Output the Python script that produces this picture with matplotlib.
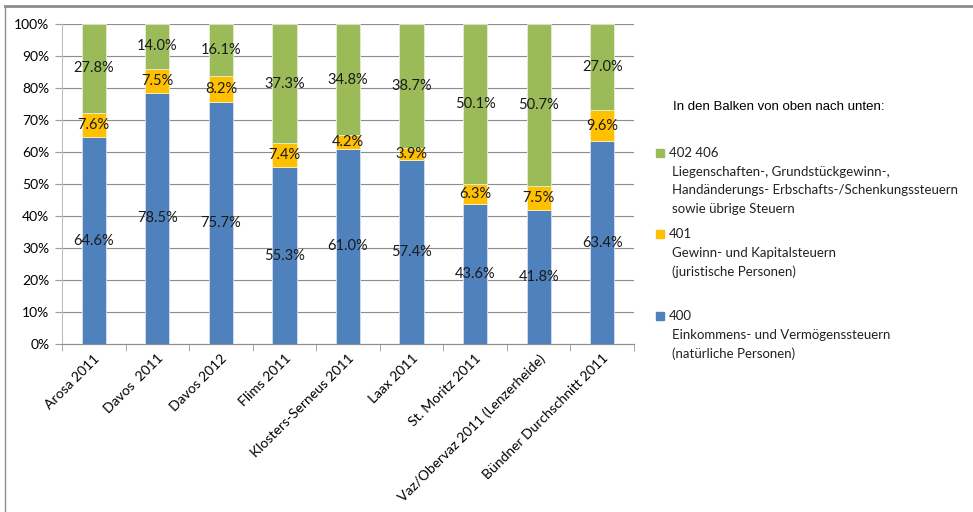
import numpy as np
import matplotlib
matplotlib.use("Agg")
import matplotlib.pyplot as plt
from matplotlib.lines import Line2D
from matplotlib.patches import Rectangle

orte = ["Arosa 2011", "Davos  2011", "Davos 2012", "Flims 2011",
        "Klosters-Serneus 2011", "Laax 2011", "St. Moritz 2011",
        "Vaz/Obervaz 2011 (Lenzerheide)", "Bündner Durchschnitt 2011"]
# 400 Einkommens- und Vermoegenssteuern
nat = [64.6, 78.5, 75.7, 55.3, 61.0, 57.4, 43.6, 41.8, 63.4]
# 401 Gewinn- und Kapitalsteuern
jur = [7.6, 7.5, 8.2, 7.4, 4.2, 3.9, 6.3, 7.5, 9.6]
# 402-406 Liegenschaften etc.
lieg = [27.8, 14.0, 16.1, 37.3, 34.8, 38.7, 50.1, 50.7, 27.0]

blau = "#4F81BD"
gelb = "#FFC000"
gruen = "#9BBB59"

plt.rcParams['font.family'] = ['Lato', 'DejaVu Sans']

fig = plt.figure(figsize=(9.73, 5.12), dpi=100)
ax = fig.add_axes([62/973, 1-344/512, (634-62)/973, 320/512])

x = np.arange(len(orte))
nat = np.array(nat)
jur = np.array(jur)
lieg = np.array(lieg)
b = 0.38
ax.bar(x, nat, b, color=blau, edgecolor="#d6e0ee", linewidth=0.6, zorder=3)
ax.bar(x, jur, b, bottom=nat, color=gelb, edgecolor="#fff0c0", linewidth=0.6, zorder=3)
ax.bar(x, lieg, b, bottom=nat+jur, color=gruen, edgecolor="#e4eed6", linewidth=0.6, zorder=3)

for i in range(len(orte)):
    for bot, v in [(0, nat[i]), (nat[i], jur[i]), (nat[i]+jur[i], lieg[i])]:
        ax.text(x[i], bot + v/2, f"{v:.1f}%", ha="center", va="center",
                fontsize=10.5, color="#1a1a1a", zorder=4)

ax.set_xlim(-0.5, len(orte)-0.5)
ax.set_ylim(0, 100)
ax.set_yticks(np.arange(0, 101, 10))
ax.set_yticklabels([f"{v}%" for v in range(0, 101, 10)], fontsize=10)
ax.set_xticks(x)
ax.set_xticklabels(orte, rotation=45, ha="right", va="top",
                   rotation_mode="anchor", fontsize=10)
ax.set_xticks(np.arange(len(orte)+1) - 0.5, minor=True)
ax.tick_params(axis="x", which="major", length=0, pad=6)
ax.tick_params(axis="x", which="minor", length=5, color="#999999")
ax.tick_params(axis="y", length=5, color="#999999", pad=4)
ax.grid(axis="y", color="#8c8c8c", linewidth=0.8, zorder=0)
for s in ["top", "right"]:
    ax.spines[s].set_visible(False)
ax.spines["left"].set_color("#bfbfbf")
ax.spines["bottom"].set_color("#8c8c8c")

# Legende rechts
fig.text(673/973, 1-107/512, "In den Balken von oben nach unten:",
         fontsize=9.5, family=['Liberation Sans'], va="center")
eintraege = [
    (gruen, 153, ["402 406", "Liegenschaften-, Grundstückgewinn-,",
                  "Handänderungs- Erbschafts-/Schenkungssteuern",
                  "sowie übrige Steuern"]),
    (gelb, 234, ["401", "Gewinn- und Kapitalsteuern", "(juristische Personen)"]),
    (blau, 316, ["400", "Einkommens- und Vermögenssteuern", "(natürliche Personen)"]),
]
for farbe, y0, zeilen in eintraege:
    fig.patches.append(Rectangle((656/973, 1-(y0+4)/512), 8/973, 8/512,
                                 transform=fig.transFigure, color=farbe))
    for k, z in enumerate(zeilen):
        xx = 669 if k == 0 else 672
        fig.text(xx/973, 1-(y0 + k*18.7)/512, z, fontsize=9.5,
                 color="#222222", va="center")

# Rahmen oben und links
fig.add_artist(Line2D([5/973, 1], [1-6/512, 1-6/512], color="#8c8c8c", linewidth=2))
fig.add_artist(Line2D([5/973, 5/973], [0, 1-6/512], color="#8c8c8c", linewidth=1))

fig.savefig("out.png", dpi=100)
